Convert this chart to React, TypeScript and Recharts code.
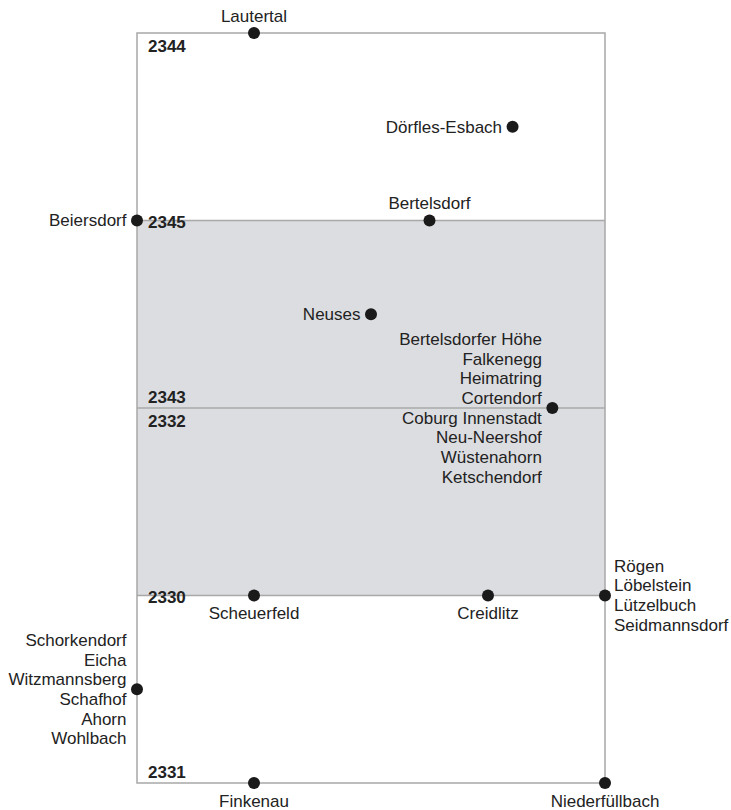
import React from "react";
import { ScatterChart, Scatter, XAxis, YAxis, ReferenceArea, ReferenceLine } from "recharts";

// Places: grid coordinates (x: 0..4 left→right, y: 0..4 top→bottom)
const placeNames: string[][] = [
  ["Lautertal"],
  ["Dörfles-Esbach"],
  ["Bertelsdorf"],
  ["Beiersdorf"],
  ["Neuses"],
  ["Bertelsdorfer Höhe", "Falkenegg", "Heimatring", "Cortendorf", "Coburg Innenstadt", "Neu-Neershof", "Wüstenahorn", "Ketschendorf"],
  ["Scheuerfeld"],
  ["Creidlitz"],
  ["Rögen", "Löbelstein", "Lützelbuch", "Seidmannsdorf"],
  ["Schorkendorf", "Eicha", "Witzmannsberg", "Schafhof", "Ahorn", "Wohlbach"],
  ["Finkenau"],
  ["Niederfüllbach"],
];
const placeX = [1, 3.21, 2.5, 0, 2, 3.55, 1, 3, 4, 0, 1, 4];
const placeY = [0, 0.5, 1, 1, 1.5, 2, 3, 3, 3, 3.5, 4, 4];
const labelSide = ["top", "left", "top", "left", "left", "left", "bottom", "bottom", "right", "left", "bottom", "bottom"];

// Area codes
const codes = ["2344", "2345", "2343", "2332", "2330", "2331"];
const codeY = [0, 1, 2, 2, 3, 4];
const codePos = ["below", "center", "above", "below", "center", "above"];

const places = placeNames.map((lines, i) => ({ x: placeX[i], y: placeY[i], lines, side: labelSide[i] }));
const codeData = codes.map((c, i) => ({ x: 0, y: codeY[i], code: c, pos: codePos[i] }));

const FONT = "'Liberation Sans', Arial, sans-serif";
const FS = 17;
const LH = 19.7;

const PlaceShape = (props: any) => {
  const { cx, cy, payload } = props;
  const lines: string[] = payload.lines;
  const n = lines.length;
  let anchor: "start" | "middle" | "end" = "middle";
  let tx = cx;
  let baseY = cy;
  if (payload.side === "top") {
    baseY = cy - 11.5;
  } else if (payload.side === "bottom") {
    baseY = cy + 23.5;
  } else if (payload.side === "left") {
    anchor = "end";
    tx = cx - 10.5;
    baseY = cy - ((n - 1) / 2) * LH + 5.8;
  } else {
    anchor = "start";
    tx = cx + 9;
    baseY = cy - ((n - 1) / 2) * LH + 5.8;
  }
  return (
    <g>
      <circle cx={cx} cy={cy} r={6} fill="#1a1a1a" />
      <text x={tx} y={baseY} textAnchor={anchor} fontFamily={FONT} fontSize={FS} fill="#222">
        {lines.map((l, i) => (
          <tspan key={i} x={tx} y={baseY + i * LH}>
            {l}
          </tspan>
        ))}
      </text>
    </g>
  );
};

const CodeShape = (props: any) => {
  const { cx, cy, payload } = props;
  let y = cy;
  if (payload.pos === "below") y = cy + 19;
  else if (payload.pos === "center") y = cy + 7.5;
  else y = cy - 5;
  return (
    <text x={cx + 11} y={y} fontFamily={FONT} fontWeight="bold" fontSize={FS} fill="#222">
      {payload.code}
    </text>
  );
};

export default function App() {
  return (
    <>
      <style>{"body{margin:0}"}</style>
      <ScatterChart
        width={731}
        height={810}
        margin={{ top: 33, left: 137, right: 126, bottom: 27 }}
        style={{ overflow: "visible" }}
      >
        <XAxis type="number" dataKey="x" domain={[0, 4]} hide />
        <YAxis type="number" dataKey="y" domain={[0, 4]} reversed hide />
        <ReferenceArea x1={0} x2={4} y1={1} y2={3} fill="#dcdde0" fillOpacity={1} stroke="none" />
        <ReferenceArea x1={0} x2={4} y1={0} y2={4} fill="none" stroke="#a8a8a8" strokeWidth={1.5} />
        <ReferenceLine y={1} stroke="#a8a8a8" strokeWidth={1.5} />
        <ReferenceLine y={2} stroke="#a8a8a8" strokeWidth={1.5} />
        <ReferenceLine y={3} stroke="#a8a8a8" strokeWidth={1.5} />
        <Scatter data={codeData} shape={<CodeShape />} isAnimationActive={false} />
        <Scatter data={places} shape={<PlaceShape />} isAnimationActive={false} />
      </ScatterChart>
    </>
  );
}
